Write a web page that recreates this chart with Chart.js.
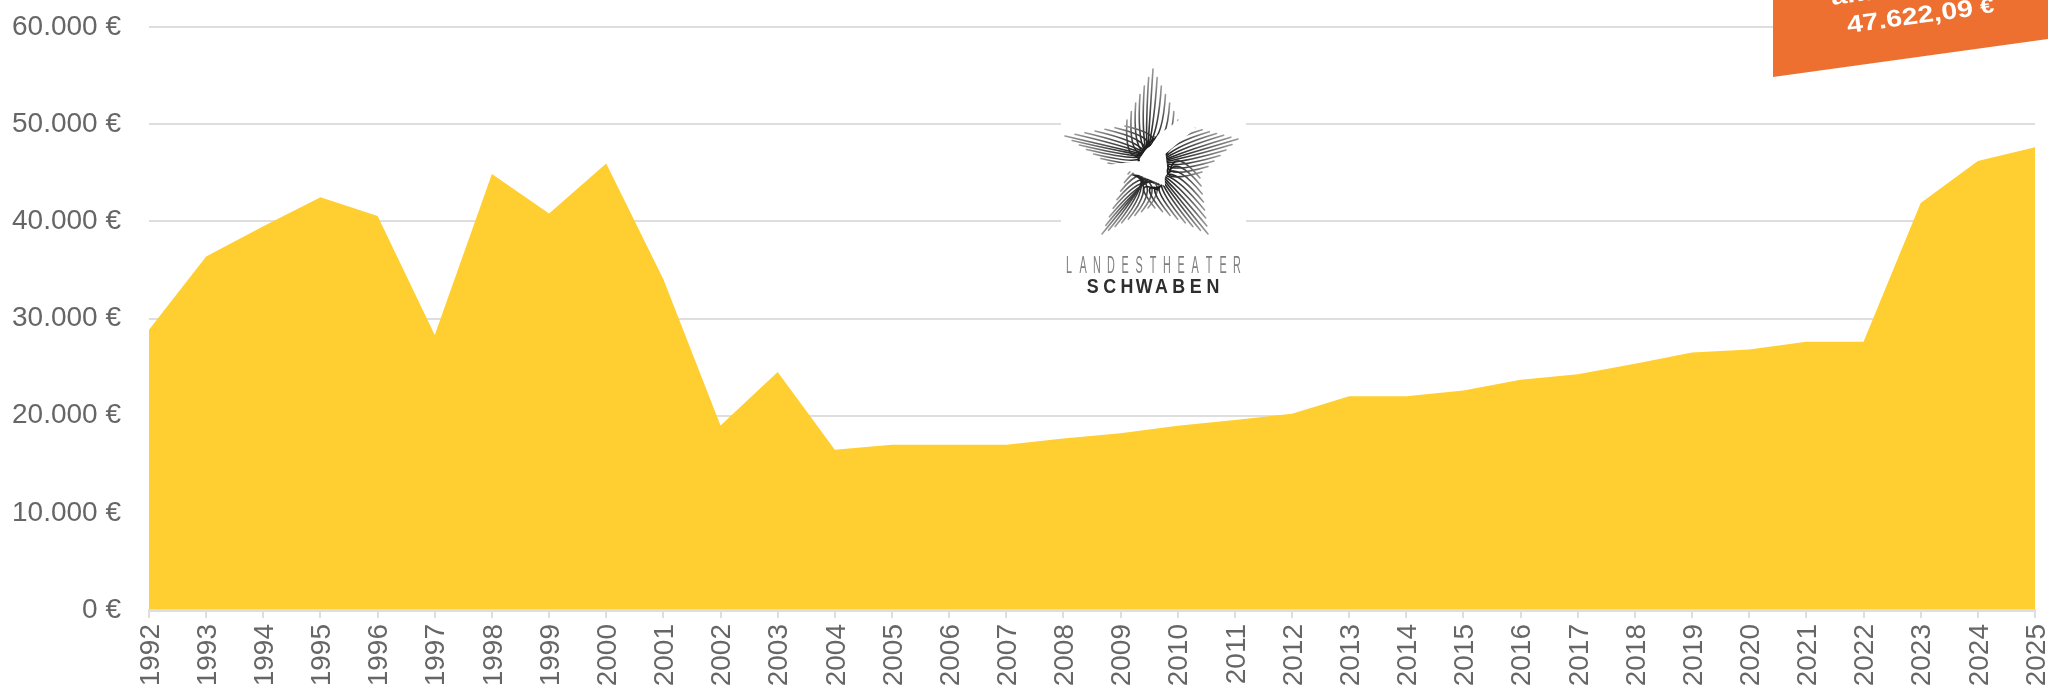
<!DOCTYPE html>
<html>
<head>
<meta charset="utf-8">
<style>
  html, body { margin: 0; padding: 0; background: #fff; overflow: hidden; }
  #wrap { width: 2048px; height: 688px; }
</style>
<script src="https://cdn.jsdelivr.net/npm/chart.js@4/dist/chart.umd.min.js"></script>
</head>
<body>
<div id="wrap"><canvas id="chart" width="2048" height="688"></canvas></div>
<script>
const years = [
  "1992", "1993", "1994", "1995", "1996", "1997", "1998", "1999", "2000", "2001", "2002",
  "2003", "2004", "2005", "2006", "2007", "2008", "2009", "2010", "2011", "2012", "2013",
  "2014", "2015", "2016", "2017", "2018", "2019", "2020", "2021", "2022", "2023", "2024", "2025"
];
const amounts = [
  28830, 36380, 39500, 42470, 40560, 28300, 44870, 40810, 45940, 34040, 19000,
  24500, 16500, 17000, 17000, 17000, 17650, 18200, 18950, 19550, 20200, 22000,
  22000, 22600, 23700, 24250, 25350, 26500, 26800, 27600, 27600, 41890, 46220, 47622.09
];
const yTicks = [0, 10000, 20000, 30000, 40000, 50000, 60000];
const bannerLabel = "aktuell";
const bannerValue = "47.622,09";

const textColor = "#666666";
const gridColor = "#dedede";

function euro(v) {
  return v.toLocaleString("de-DE") + " €";
}

// one arm of the star: hatch lines from the edges of the arm in to a dark knot
function arm(ctx, apex, edgeA, edgeB, knot, spread, n) {
  const tips = [apex];
  for (let i = 1; i <= n; i++) {
    const t = i / n;
    tips.push([apex[0] + (edgeA[0] - apex[0]) * t, apex[1] + (edgeA[1] - apex[1]) * t, -t]);
    tips.push([apex[0] + (edgeB[0] - apex[0]) * t, apex[1] + (edgeB[1] - apex[1]) * t, t]);
  }
  const axis = [knot[0] - apex[0], knot[1] - apex[1]];
  tips.forEach(function (tip) {
    const s = tip[2] || 0;
    const fx = knot[0] + spread[0] * s;
    const fy = knot[1] + spread[1] * s;
    const g = ctx.createLinearGradient(fx, fy, tip[0], tip[1]);
    g.addColorStop(0, "#1c1c1c");
    g.addColorStop(0.55, "#555");
    g.addColorStop(1, "#999");
    ctx.strokeStyle = g;
    ctx.lineWidth = 1.6;
    ctx.beginPath();
    ctx.moveTo(tip[0], tip[1]);
    ctx.quadraticCurveTo(tip[0] + axis[0] * 0.55, tip[1] + axis[1] * 0.55, fx, fy);
    ctx.stroke();
  });
}

function spacedText(ctx, text, left, pitch, baseline, sx) {
  for (let i = 0; i < text.length; i++) {
    ctx.save();
    ctx.translate(left + pitch * (i + 0.5), baseline);
    ctx.scale(sx, 1);
    ctx.fillText(text[i], 0, 0);
    ctx.restore();
  }
}

const logoPlugin = {
  id: "logo",
  afterDraw(chart) {
    const ctx = chart.ctx;
    ctx.save();
    ctx.fillStyle = "#fff";
    ctx.fillRect(1061, 62, 185, 236);
    ctx.translate(1030, 50);
    ctx.filter = "blur(0.5px)";
    ctx.lineCap = "round";
    arm(ctx, [123, 19], [97, 70], [148, 70], [118, 96], [7, -9], 6);
    arm(ctx, [35, 86], [95, 76], [78, 113], [112, 104], [-4, 6], 6);
    arm(ctx, [208, 89], [165, 78], [172, 122], [137, 110], [1, 8], 6);
    arm(ctx, [72, 184], [98, 124], [118, 158], [116, 130], [-13, -5], 7);
    arm(ctx, [178, 184], [170, 128], [125, 158], [134, 130], [-6, 10], 7);
    // white lightning shape left in the middle of the star
    ctx.fillStyle = "#fff";
    ctx.beginPath();
    ctx.moveTo(128, 85);
    ctx.lineTo(149, 70);
    ctx.lineTo(166, 78);
    ctx.lineTo(134, 105);
    ctx.lineTo(135, 136);
    ctx.lineTo(97, 120);
    ctx.lineTo(76, 115);
    ctx.lineTo(111, 111);
    ctx.closePath();
    ctx.fill();
    ctx.filter = "none";
    ctx.restore();

    ctx.save();
    ctx.textBaseline = "alphabetic";
    ctx.textAlign = "center";
    ctx.fillStyle = "#808080";
    ctx.font = "24px 'Liberation Sans'";
    spacedText(ctx, "LANDESTHEATER", 1062, 14, 272.5, 0.45);
    ctx.fillStyle = "#2e2e2e";
    ctx.font = "bold 21px 'Liberation Sans'";
    spacedText(ctx, "SCHWABEN", 1084, 17.2, 293, 0.85);
    ctx.restore();
  }
};

const bannerPlugin = {
  id: "banner",
  afterDraw(chart) {
    const ctx = chart.ctx;
    ctx.save();
    ctx.fillStyle = "#ee7030";
    ctx.beginPath();
    ctx.moveTo(1773, 0);
    ctx.lineTo(2048, 0);
    ctx.lineTo(2048, 39);
    ctx.lineTo(1773, 77);
    ctx.closePath();
    ctx.fill();
    ctx.restore();

    ctx.save();
    ctx.translate(1832, 5);
    ctx.rotate(-7.8 * Math.PI / 180);
    ctx.scale(1.19, 1);
    ctx.fillStyle = "#fff";
    ctx.textBaseline = "alphabetic";
    ctx.font = "bold 24px 'Liberation Sans'";
    ctx.fillText(bannerLabel, 0, 0);
    ctx.restore();

    ctx.save();
    ctx.translate(1848, 33);
    ctx.rotate(-7.8 * Math.PI / 180);
    ctx.scale(1.19, 1);
    ctx.fillStyle = "#fff";
    ctx.textBaseline = "alphabetic";
    ctx.font = "bold 24px 'Liberation Sans'";
    ctx.fillText(bannerValue, 0, 0);
    ctx.font = "bold 21px 'Liberation Sans'";
    ctx.fillText("€", 113, -1);
    ctx.restore();
  }
};

new Chart(document.getElementById("chart"), {
  type: "line",
  data: {
    labels: years,
    datasets: [
      {
        data: amounts,
        fill: "origin",
        backgroundColor: "#ffce30",
        borderWidth: 0,
        pointRadius: 0,
        tension: 0,
      },
    ],
  },
  options: {
    responsive: false,
    animation: false,
    layout: { padding: { left: 0, right: 13, top: 27, bottom: 0 } },
    plugins: {
      legend: { display: false },
      title: { display: false },
      tooltip: { enabled: false },
    },
    scales: {
      y: {
        min: 0,
        max: 60000,
        afterBuildTicks(axis) {
          axis.ticks = yTicks.map((v) => ({ value: v }));
        },
        afterFit(axis) {
          axis.width = 149;
          axis.paddingTop = 0;
          axis.paddingBottom = 0;
        },
        grid: { color: gridColor, lineWidth: 2, drawTicks: false },
        border: { display: false },
        ticks: {
          color: textColor,
          font: { family: "'Liberation Sans', Arial", size: 28 },
          padding: 28,
          callback: (v) => euro(v),
        },
      },
      x: {
        offset: false,
        afterFit(axis) {
          axis.height = 78;
          axis.paddingLeft = 0;
          axis.paddingRight = 0;
        },
        grid: { display: true, drawOnChartArea: false, color: gridColor, lineWidth: 2, tickLength: 8 },
        border: { display: true, color: gridColor, width: 3, z: 1 },
        ticks: {
          color: textColor,
          font: { family: "'Liberation Sans', Arial", size: 28 },
          autoSkip: false,
          minRotation: 90,
          maxRotation: 90,
          padding: 6,
          labelOffset: 2,
        },
      },
    },
  },
  plugins: [logoPlugin, bannerPlugin],
});
</script>
</body>
</html>
